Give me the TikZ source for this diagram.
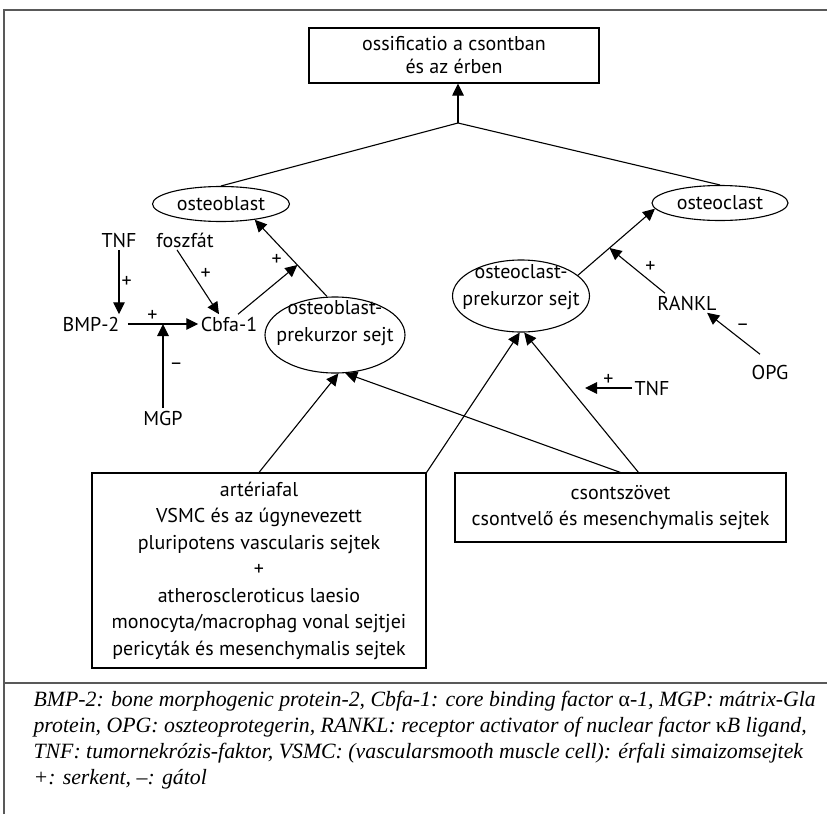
\documentclass[tikz,border=0pt]{standalone}
\usepackage{fontspec}
\setmainfont{PT Sans}
\newfontfamily\captfont{Liberation Serif}
\usetikzlibrary{calc}
\usetikzlibrary{shapes.geometric}
\usetikzlibrary{arrows.meta}

\begin{document}
\begin{tikzpicture}[x=1pt, y=-1pt, line width=1.1pt]
  \tikzstyle{annot} = [font=\fontsize{20}{26.5}\selectfont, inner sep=2pt, text centered]
  \tikzstyle{box} = [draw, annot, align=center, inner sep=0pt]
  \tikzstyle{cell} = [draw, ellipse, annot, inner sep=0pt]
  \tikzstyle{sign} = [font=\fontsize{20}{20}\selectfont, inner sep=2pt]
  \tikzstyle{arr} = [-{Triangle[length=12pt, width=11.5pt]}]
  \tikzstyle{frame} = [draw=black!65, line width=1.2pt]

  \useasboundingbox (0,0) rectangle (827,814);

  % frame of the figure
  \draw[frame] (4,814) -- (4,10) -- (827,10);
  \draw[frame] (4,683) -- (827,683);

  % top
  \node[box, font=\fontsize{20}{23}\selectfont, minimum width=290pt, minimum height=55pt]
    (ossif) at (454,55.5) {ossificatio a csontban\\és az érben};
  \coordinate (junc) at (458,123);

  \node[cell, minimum width=137pt, minimum height=35pt] (ob) at (221,204) {osteoblast};
  \node[cell, minimum width=136pt, minimum height=35pt] (oc) at (720,203) {osteoclast};

  \node[cell, minimum width=140pt, minimum height=76pt,
    label={[annot, align=center, yshift=12pt]center:{osteoblast-\\prekurzor sejt}}]
    (obp) at (335,335) {};
  \node[cell, minimum width=137pt, minimum height=72pt,
    label={[annot, align=center, yshift=9pt]center:{osteoclast-\\prekurzor sejt}}]
    (ocp) at (521,296) {};

  % left regulators
  \node[annot] (tnfa) at (119,240) {TNF};
  \node[annot] (fosz) at (185,240) {foszfát};
  \node[annot] (bmp) at (91,324) {BMP-2};
  \node[annot] (cbfa) at (229,324) {Cbfa-1};
  \node[annot] (mgp) at (163,418) {MGP};

  % right regulators
  \node[annot] (rankl) at (687,303) {RANKL};
  \node[annot] (opg) at (770,372) {OPG};
  \node[annot] (tnfb) at (652,388) {TNF};
  \coordinate (tnftip) at (585,388);

  % source tissues
  \node[box, minimum width=334pt, minimum height=195pt] (art) at (259,570.5)
    {artériafal\\VSMC és az úgynevezett\\pluripotens vascularis sejtek\\+\\atheroscleroticus laesio\\monocyta/macrophag vonal sejtjei\\pericyták és mesenchymalis sejtek};
  \node[box, minimum width=331pt, minimum height=69pt] (cs) at (620.5,507.5)
    {csontszövet\\csontvelő és mesenchymalis sejtek};

  % top tree
  \draw[arr] (junc) -- (junc |- ossif.south);
  \draw (junc) -- (ob.north);
  \draw (junc) -- (oc.north);

  % osteoblast branch
  \coordinate (obout) at ([xshift=-8pt]obp.north);
  \coordinate (obin) at (ob.-25);
  \draw[arr] (obout) -- (obin);
  \draw[arr] (tnfa.south) -- (tnfa.south |- bmp.north) node[sign, midway, right] {+};
  \draw[arr, shorten <=6pt] (bmp.east) -- (cbfa.west) node[sign, pos=0.4, above] {+};
  \draw[arr] (mgp.north) -- (mgp.north |- bmp.east) node[sign, midway, right=4pt] {–};
  \draw[arr] ([xshift=-8pt]fosz.south) -- ([xshift=-10pt]cbfa.north) node[sign, midway, above right] {+};
  \draw[arr] ([xshift=9pt]cbfa.north) -- ($(obout)!0.41!(obin)$) node[sign, pos=0.65, yshift=22pt] {+};

  % osteoclast branch
  \coordinate (ocout) at (ocp.20);
  \coordinate (ocin) at (oc.185);
  \draw[arr] (ocout) -- (ocin);
  \draw[arr] ([xshift=-22pt]rankl.north) -- ($(ocout)!0.41!(ocin)$) node[sign, pos=0.4, above right] {+};
  \draw[arr] ([xshift=-10pt, yshift=8pt]opg.north) -- ([xshift=-12pt]rankl.south east) node[sign, midway, above right] {–};
  \draw[arr] (tnfb.west) -- (tnftip) node[sign, midway, above] {+};

  % from the tissues
  \draw[arr] (art.north) -- (obp.-85);
  \draw[arr] (cs.north) -- (obp.-75);
  \draw[arr] (art.north east) -- (ocp.-92);
  \draw[arr] ([xshift=18pt]cs.north) -- (ocp.-85);

  % legend
  \node[anchor=north west, inner sep=0pt, align=left,
    font={\captfont\itshape\fontsize{21.8}{26}\selectfont}] (capt) at (33,691)
    {BMP-2: bone morphogenic protein-2, Cbfa-1: core binding factor {\upshape α}-1, MGP: mátrix-Gla\\
     protein, OPG: oszteoprotegerin, RANKL: receptor activator of nuclear factor {\upshape κ}B ligand,\\
     TNF: tumornekrózis-faktor, VSMC: (vascularsmooth muscle cell): érfali simaizomsejtek\\
     +: serkent, –: gátol};
\end{tikzpicture}
\end{document}
